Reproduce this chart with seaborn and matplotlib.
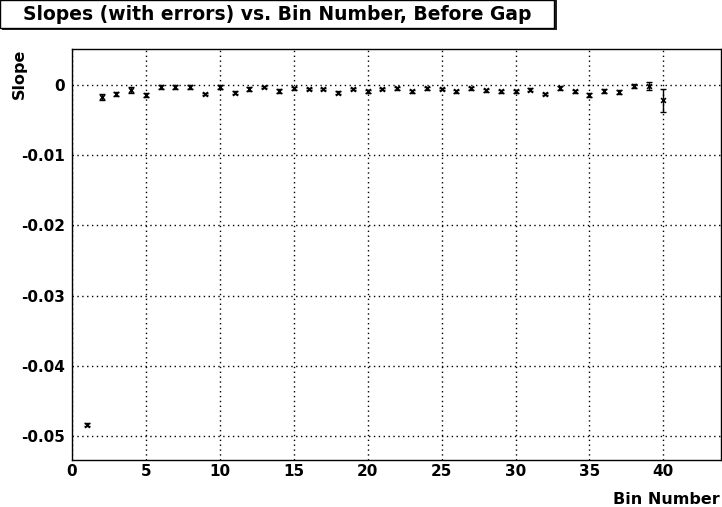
import numpy as np
import pandas as pd
import matplotlib
matplotlib.use("Agg")
import matplotlib.pyplot as plt
import seaborn as sns
from matplotlib.ticker import MultipleLocator
from matplotlib.patches import Rectangle

# values
bins = list(range(1, 41))
slopes = [-0.0484, -0.0017, -0.0013, -0.0007, -0.0015, -0.0003, -0.0003, -0.0003, -0.0013, -0.0003,
          -0.0011, -0.0006, -0.0003, -0.0009, -0.0005, -0.0006, -0.0006, -0.0011, -0.0006, -0.0009,
          -0.0006, -0.0005, -0.0009, -0.0005, -0.0006, -0.0009, -0.0005, -0.0008, -0.0009, -0.0009,
          -0.0007, -0.0013, -0.0005, -0.0009, -0.0014, -0.0009, -0.0010, -0.0002, -0.0002, -0.0022]
errors = [0.0002, 0.0004, 0.0003, 0.0004, 0.0003, 0.0003, 0.0003, 0.0003, 0.0002, 0.0003,
          0.0002, 0.0003, 0.0002, 0.0003, 0.0002, 0.0002, 0.0002, 0.0002, 0.0002, 0.0002,
          0.0002, 0.0002, 0.0002, 0.0002, 0.0002, 0.0002, 0.0002, 0.0002, 0.0002, 0.0002,
          0.0002, 0.0002, 0.0003, 0.0002, 0.0003, 0.0003, 0.0003, 0.0003, 0.0006, 0.0016]

df = pd.DataFrame({"bin": bins, "slope": slopes, "err": errors})

sns.set_style("white")
plt.rcParams['font.family'] = ['DejaVu Sans']
plt.rcParams['font.weight'] = 'bold'
plt.rcParams['text.color'] = 'black'
plt.rcParams['axes.labelcolor'] = 'black'
plt.rcParams['xtick.color'] = 'black'
plt.rcParams['ytick.color'] = 'black'

fig = plt.figure(figsize=(7.22, 5.07), dpi=100)
ax = fig.add_axes([0.0997, 0.0927, 0.899, 0.8107])

ax.errorbar(df["bin"], df["slope"], yerr=df["err"], fmt='none', ecolor='black',
            elinewidth=1, capsize=2.5, capthick=1, zorder=3)
sns.scatterplot(data=df, x="bin", y="slope", marker='x', color='black', s=12,
                linewidth=1.2, ax=ax, zorder=4)

ax.set_xlim(0, 43.9)
ax.set_ylim(-0.0534, 0.0051)

ax.xaxis.set_major_locator(MultipleLocator(5))
ax.xaxis.set_minor_locator(MultipleLocator(1))
ax.yaxis.set_major_locator(MultipleLocator(0.01))
ax.yaxis.set_minor_locator(MultipleLocator(0.002))
ax.yaxis.set_major_formatter(matplotlib.ticker.FuncFormatter(
    lambda v, p: "0" if abs(v) < 1e-9 else f"{v:g}"))

ax.tick_params(axis='x', which='major', direction='in', length=12, width=1,
               color='black', labelcolor='black', labelsize=11, pad=3, top=False)
ax.tick_params(axis='x', which='minor', direction='in', length=6, width=1,
               color='black', top=False)
ax.tick_params(axis='y', which='major', direction='in', length=19, width=1,
               color='black', labelcolor='black', labelsize=11, pad=5, right=False)
ax.tick_params(axis='y', which='minor', direction='in', length=10, width=1,
               color='black', right=False)
for lab in ax.get_xticklabels() + ax.get_yticklabels():
    lab.set_fontweight('bold')

ax.grid(True, which='major', linestyle=(0, (1, 2.5)), color='black', linewidth=1)
for sp in ax.spines.values():
    sp.set_color('black')
    sp.set_linewidth(1)

ax.set_xlabel("Bin Number", fontsize=11.5, fontweight='bold', loc='right', va='top')
ax.set_ylabel("Slope", fontsize=11.5, fontweight='bold', loc='top')
ax.xaxis.set_label_coords(0.998, -0.077)
ax.yaxis.set_label_coords(-0.07, 1.0)

# title box with shadow, ROOT style
fig.patches.append(Rectangle((0.003, 0.941), 0.768, 0.059, transform=fig.transFigure,
                             facecolor='#222222', edgecolor='none', zorder=1))
fig.patches.append(Rectangle((0.0, 0.945), 0.768, 0.055, transform=fig.transFigure,
                             facecolor='white', edgecolor='black', linewidth=1, zorder=2))
fig.text(0.384, 0.972, "Slopes (with errors) vs. Bin Number, Before Gap",
         ha='center', va='center', fontsize=13.5, fontweight='bold', zorder=3)

fig.savefig("out.png", dpi=100)
